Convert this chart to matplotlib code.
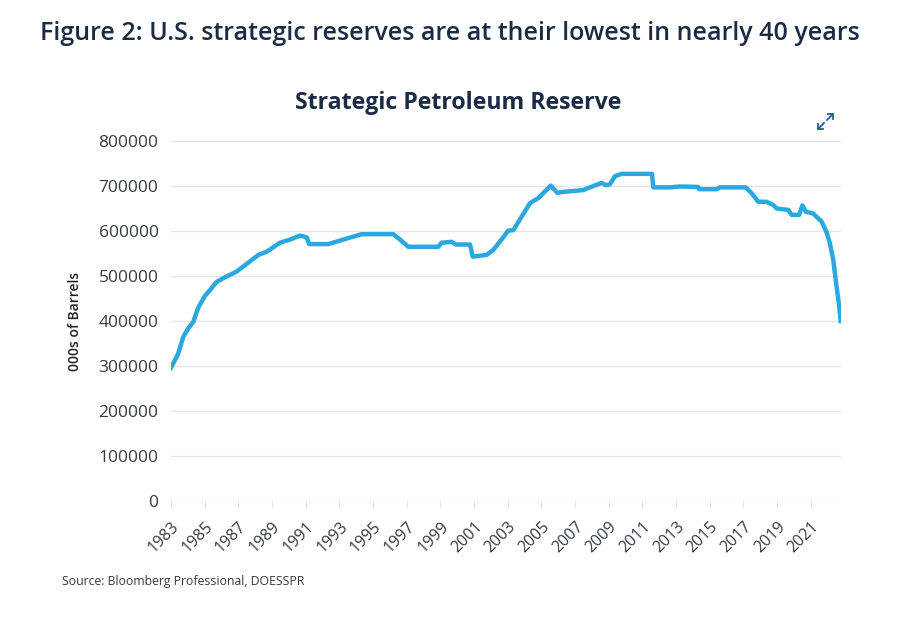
import matplotlib.pyplot as plt
from matplotlib.lines import Line2D
from matplotlib.transforms import ScaledTranslation

plt.rcParams['font.family'] = ['Open Sans', 'DejaVu Sans']

# SPR level (decimal year, thousand barrels)
years = [1983.0, 1983.43, 1983.73, 1984.03, 1984.32, 1984.62, 1985.02, 1985.32, 1985.71,
         1986.2, 1986.9, 1987.39, 1988.19, 1988.68, 1989.47, 1990.07, 1990.66, 1991.06,
         1991.2, 1992.34, 1993.33, 1994.32, 1996.2, 1996.6, 1997.09, 1998.87, 1999.07,
         1999.67, 1999.92, 2000.76, 2000.92, 2001.75, 2002.14, 2002.73, 2003.03, 2003.33,
         2004.32, 2004.81, 2005.55, 2005.94, 2006.3, 2007.48, 2008.08, 2008.58, 2008.83,
         2009.07, 2009.37, 2009.76, 2011.57, 2011.64, 2012.63, 2013.23, 2014.32, 2014.37,
         2015.4, 2015.6, 2017.14, 2017.48, 2017.88, 2018.37, 2018.77, 2018.97, 2019.66,
         2019.86, 2020.31, 2020.5, 2020.7, 2021.14, 2021.44, 2021.64, 2021.93, 2022.13,
         2022.33, 2022.53, 2022.69, 2022.77]
reserve = [296000, 328000, 365000, 384000, 398000, 430000, 456000, 469000, 487000,
           497000, 510000, 524000, 547000, 554000, 574000, 581000, 590000, 586000,
           571000, 571000, 582000, 593000, 593000, 581000, 565000, 565000, 574000,
           576000, 570000, 570000, 543000, 547000, 558000, 586000, 601000, 602000,
           662000, 673000, 701000, 685000, 687000, 691000, 700000, 707000, 702000,
           704000, 722000, 727000, 727000, 697000, 697000, 699000, 698000, 693000,
           693000, 697000, 697000, 684000, 665000, 665000, 658000, 650000, 647000,
           636000, 636000, 657000, 643000, 639000, 628000, 621000, 598000, 573000,
           536000, 476000, 432000, 400000]

tick_years = list(range(1983, 2022, 2))
y_ticks = list(range(0, 800001, 100000))

navy = '#1c2b45'
fig = plt.figure(figsize=(9.13, 6.21), dpi=100)
ax = fig.add_axes([0.1873, 0.1932, 0.7338, 0.5797])

ax.plot(years, reserve, color='#2aa8df', lw=3.2, solid_joinstyle='round')
ax.set_xlim(1983, 2022.79)
ax.set_ylim(0, 800000)
ax.set_yticks(y_ticks)
ax.set_yticklabels([str(v) for v in y_ticks])
ax.set_xticks(tick_years)
ax.set_xticklabels([str(y) for y in tick_years], rotation=45, ha='right',
                   rotation_mode='anchor')
# nudge the slanted year labels a little right, as in the original
shift = ScaledTranslation(6 / 100, 0, fig.dpi_scale_trans)
for lbl in ax.get_xticklabels():
    lbl.set_transform(lbl.get_transform() + shift)
ax.grid(axis='y', color='#e6e6e6', lw=1)
ax.set_axisbelow(True)
for s in ax.spines.values():
    s.set_visible(False)
ax.tick_params(axis='y', length=0, pad=9, labelsize=12.5, labelcolor='#333a44')
ax.tick_params(axis='x', length=4, color='#e0e0e0', pad=9, labelsize=11.5,
               labelcolor='#333a44')
ax.set_ylabel('000s of Barrels', fontsize=10, color='#222', fontweight='semibold',
              labelpad=12)

fig.text(458 / 913, 1 - 103 / 621, 'Strategic Petroleum Reserve', fontsize=16.7,
         fontweight='bold', color=navy, ha='center', va='center')
fig.text(40 / 913, 1 - 33 / 621, 'Figure 2: U.S. strategic reserves are at their lowest in nearly 40 years',
         fontsize=18, color=navy, va='center', ha='left', fontweight='semibold')
fig.text(62 / 913, 1 - 581 / 621, 'Source: Bloomberg Professional, DOESSPR',
         fontsize=8.8, color='#333a44', va='center', ha='left')

# expand icon: two diagonal arrows
def px(x, y):
    return x / 913, 1 - y / 621

for (x0, y0, x1, y1, hx, hy) in [(827, 120, 833, 114, -1, 1), (824, 123, 818, 129, 1, -1)]:
    xs, ys = zip(px(x0, y0), px(x1, y1))
    fig.add_artist(Line2D(xs, ys, color='#1f5fae', lw=1.3))
    hxs, hys = zip(px(x1 + 5 * hx, y1), px(x1, y1), px(x1, y1 + 5 * hy))
    fig.add_artist(Line2D(hxs, hys, color='#1f5fae', lw=1.3))

fig.savefig('out.png', dpi=100)
